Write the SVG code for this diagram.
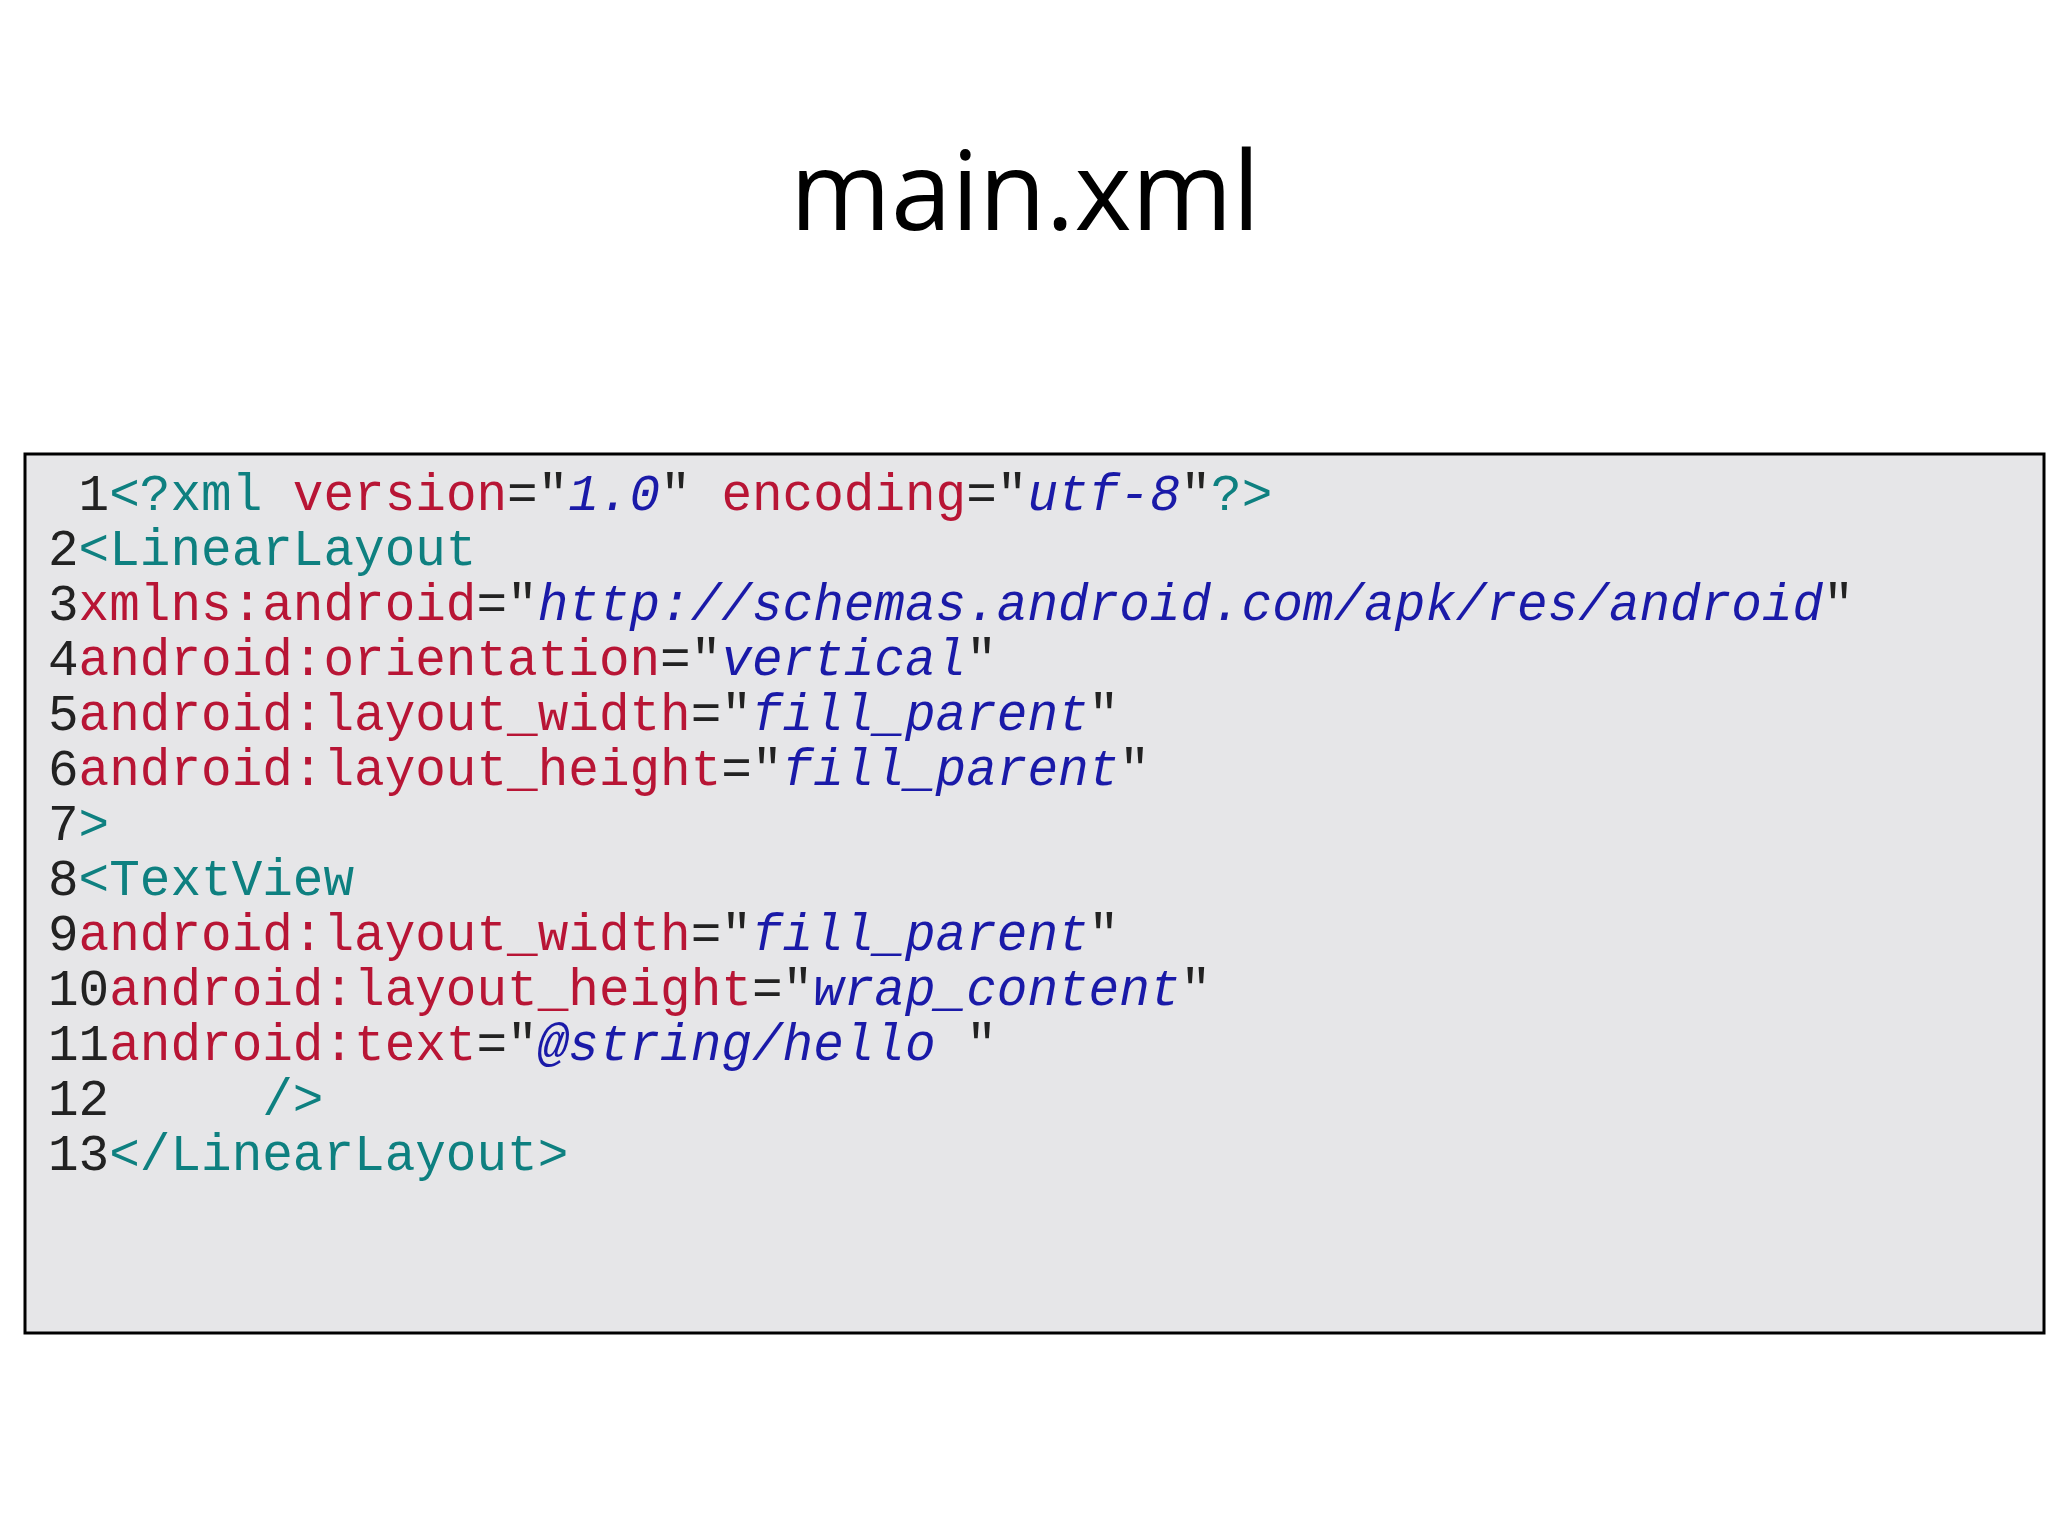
<svg xmlns="http://www.w3.org/2000/svg" width="2048" height="1536" viewBox="0 0 2048 1536">
<style>
.c{font-family:"Liberation Mono",monospace;font-size:51px;fill:#222;white-space:pre}
.t{fill:#0e8080}.a{fill:#b81535}.v{fill:#1a1aa8;font-style:italic}
</style>
<rect width="2048" height="1536" fill="#fff"/>
<g id="title"><text x="1025" y="230" text-anchor="middle" font-family="'Open Sans','Noto Sans',sans-serif" font-size="109" fill="#000">main.xml</text></g>
<g id="code">
<rect x="25" y="454" width="2019" height="879" fill="#e6e6e8" stroke="#000" stroke-width="3"/>
<text class="c" xml:space="preserve" x="48" y="510"> 1<tspan class="t">&lt;?xml </tspan><tspan class="a">version</tspan>="<tspan class="v">1.0</tspan>" <tspan class="a">encoding</tspan>="<tspan class="v">utf-8</tspan>"<tspan class="t">?&gt;</tspan></text>
<text class="c" xml:space="preserve" x="48" y="565">2<tspan class="t">&lt;LinearLayout</tspan></text>
<text class="c" xml:space="preserve" x="48" y="620">3<tspan class="a">xmlns:android</tspan>="<tspan class="v">http://schemas.android.com/apk/res/android</tspan>"</text>
<text class="c" xml:space="preserve" x="48" y="675">4<tspan class="a">android:orientation</tspan>="<tspan class="v">vertical</tspan>"</text>
<text class="c" xml:space="preserve" x="48" y="730">5<tspan class="a">android:layout_width</tspan>="<tspan class="v">fill_parent</tspan>"</text>
<text class="c" xml:space="preserve" x="48" y="785">6<tspan class="a">android:layout_height</tspan>="<tspan class="v">fill_parent</tspan>"</text>
<text class="c" xml:space="preserve" x="48" y="840">7<tspan class="t">&gt;</tspan></text>
<text class="c" xml:space="preserve" x="48" y="895">8<tspan class="t">&lt;TextView</tspan></text>
<text class="c" xml:space="preserve" x="48" y="950">9<tspan class="a">android:layout_width</tspan>="<tspan class="v">fill_parent</tspan>"</text>
<text class="c" xml:space="preserve" x="48" y="1005">10<tspan class="a">android:layout_height</tspan>="<tspan class="v">wrap_content</tspan>"</text>
<text class="c" xml:space="preserve" x="48" y="1060">11<tspan class="a">android:text</tspan>="<tspan class="v">@string/hello </tspan>"</text>
<text class="c" xml:space="preserve" x="48" y="1115">12     <tspan class="t">/&gt;</tspan></text>
<text class="c" xml:space="preserve" x="48" y="1170">13<tspan class="t">&lt;/LinearLayout&gt;</tspan></text>
</g>
</svg>
